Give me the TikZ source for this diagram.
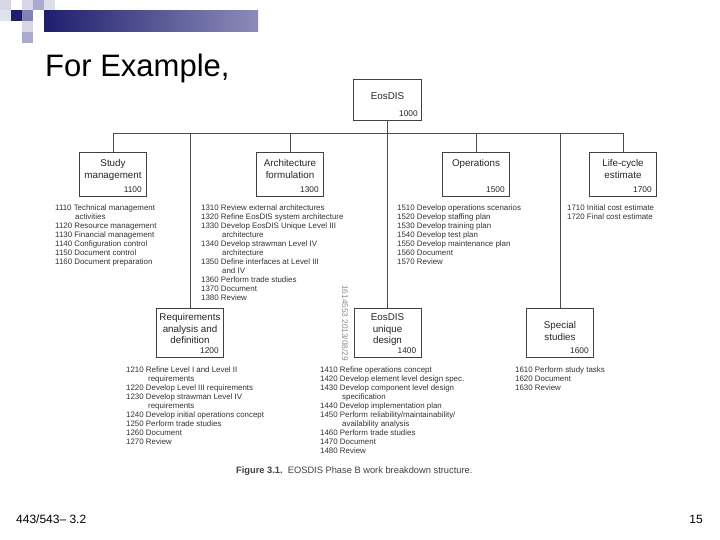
\documentclass[tikz,border=0pt]{standalone}
\usepackage{fontspec}
\setmainfont{Liberation Sans}
\definecolor{navy}{RGB}{30,30,110}
\definecolor{barend}{RGB}{140,140,185}
\definecolor{lightsq}{RGB}{214,214,230}
\definecolor{lavsq}{RGB}{170,170,208}
\definecolor{midsq}{RGB}{130,130,185}
\begin{document}
\begin{tikzpicture}[x=1pt,y=-1pt,
  box/.style={draw=black!75, line width=0.7pt, minimum width=67pt, minimum height=44pt, inner sep=0pt},
  btxt/.style={font=\fontsize{9.8}{11.5}\selectfont, align=center, text=black!85, inner sep=0pt, anchor=north},
  num/.style={font=\fontsize{8.3}{10}\selectfont, text=black!85, inner sep=0pt, anchor=south east},
  lst/.style={font=\fontsize{7.9}{9}\selectfont, align=left, text=black!80, inner sep=0pt, anchor=north west},
  wire/.style={draw=black!70, line width=0.9pt}]
\useasboundingbox (0,0) rectangle (720,540);
\fill[white] (0,0) rectangle (720,540);
% decoration
\fill[lightsq] (0,0) rectangle (11,10);
\fill[lightsq!70] (0,10) rectangle (11,21);
\fill[navy] (11,10) rectangle (22,21);
\fill[lightsq] (22,0) rectangle (33,10);
\fill[lavsq] (33,0) rectangle (44,10);
\fill[midsq] (22,10) rectangle (33,21);
\fill[lightsq] (22,21) rectangle (33,32);
\fill[lavsq] (22,32) rectangle (33,43);
\fill[lightsq!80] (44,0) rectangle (55,10);
\shade[left color=navy, right color=barend] (44,11) rectangle (258,32);
% title
\node[anchor=base west, font=\fontsize{31}{36}\selectfont, inner sep=0pt] (title) at (45,77) {For Example,};
% boxes
\node[box, minimum width=68pt, minimum height=41pt] (top) at (387.5,99.5) {};
\node[btxt] (topt) at (387.5,92) {EosDIS};
\node[num] (topn) at ([xshift=-4pt,yshift=3.5pt]top.south east) {1000};

\node[box] (sm) at (113,174) {};
\node[btxt] (smt) at (113,159.5) {Study\\management};
\node[num] (smn) at ([xshift=-5pt,yshift=3.5pt]sm.south east) {1100};

\node[box] (ar) at (290,174) {};
\node[btxt] (art) at (290,159.5) {Architecture\\formulation};
\node[num] (arn) at ([xshift=-5pt,yshift=3.5pt]ar.south east) {1300};

\node[box] (op) at (476,174) {};
\node[btxt] (opt) at (476,159.5) {Operations};
\node[num] (opn) at ([xshift=-5pt,yshift=3.5pt]op.south east) {1500};

\node[box] (lc) at (623,174) {};
\node[btxt] (lct) at (623,159.5) {Life-cycle\\estimate};
\node[num] (lcn) at ([xshift=-5pt,yshift=3.5pt]lc.south east) {1700};

\node[box, minimum height=49pt] (req) at (190,332.5) {};
\node[btxt] (reqt) at (190,313.5) {Requirements\\analysis and\\definition};
\node[num] (reqn) at ([xshift=-5pt,yshift=3.5pt]req.south east) {1200};

\node[box, minimum height=49pt] (ud) at (387.5,332.5) {};
\node[btxt] (udt) at (387.5,313.5) {EosDIS\\unique\\design};
\node[num] (udn) at ([xshift=-5pt,yshift=3.5pt]ud.south east) {1400};

\node[box, minimum height=49pt] (ss) at (560,332.5) {};
\node[btxt] (sst) at (560,321.5) {Special\\studies};
\node[num] (ssn) at ([xshift=-5pt,yshift=3.5pt]ss.south east) {1600};

% connectors
\coordinate (bl) at (113,133);
\coordinate (br) at (623,133);
\draw[wire] (top.south) -- (ud.north);
\draw[wire] (bl) -- (br);
\draw[wire] (bl) -- (sm.north);
\draw[wire] (ar.north |- bl) -- (ar.north);
\draw[wire] (op.north |- bl) -- (op.north);
\draw[wire] (br) -- (lc.north);
\draw[wire] (req.north |- bl) -- (req.north);
\draw[wire] (ss.north |- bl) -- (ss.north);

% lists
\node[lst] (l11) at (55,205) {1110 Technical management\\
\hspace*{20pt}activities\\
1120 Resource management\\
1130 Financial management\\
1140 Configuration control\\
1150 Document control\\
1160 Document preparation};

\node[lst] (l13) at (201,205) {1310 Review external architectures\\
1320 Refine EosDIS system architecture\\
1330 Develop EosDIS Unique Level III\\
\hspace*{21pt}architecture\\
1340 Develop strawman Level IV\\
\hspace*{21pt}architecture\\
1350 Define interfaces at Level III\\
\hspace*{21pt}and IV\\
1360 Perform trade studies\\
1370 Document\\
1380 Review};

\node[lst] (l15) at (397,205) {1510 Develop operations scenarios\\
1520 Develop staffing plan\\
1530 Develop training plan\\
1540 Develop test plan\\
1550 Develop maintenance plan\\
1560 Document\\
1570 Review};

\node[lst] (l17) at (567,205) {1710 Initial cost estimate\\
1720 Final cost estimate};

\node[lst] (l12) at (126,367) {1210 Refine Level I and Level II\\
\hspace*{22pt}requirements\\
1220 Develop Level III requirements\\
1230 Develop strawman Level IV\\
\hspace*{22pt}requirements\\
1240 Develop initial operations concept\\
1250 Perform trade studies\\
1260 Document\\
1270 Review};

\node[lst] (l14) at (320,367) {1410 Refine operations concept\\
1420 Develop element level design spec.\\
1430 Develop component level design\\
\hspace*{22pt}specification\\
1440 Develop implementation plan\\
1450 Perform reliability/maintainability/\\
\hspace*{22pt}availability analysis\\
1460 Perform trade studies\\
1470 Document\\
1480 Review};

\node[lst] (l16) at (515,367) {1610 Perform study tasks\\
1620 Document\\
1630 Review};

% watermark
\node[rotate=-90, font=\fontsize{8.2}{9}\selectfont, text=black!45, inner sep=0pt] (wm) at (345,323) {1614553 2013/08/29};

% caption
\node[anchor=base west, font=\fontsize{9.3}{11}\selectfont, text=black!75, inner sep=0pt] (cap) at (236,473) {\textbf{Figure 3.1.}\ \ EOSDIS Phase B work breakdown structure.};

% footer
\node[anchor=base west, font=\fontsize{12}{14}\selectfont, inner sep=0pt] (ft) at (16,523) {443/543– 3.2};
\node[anchor=base east, font=\fontsize{12}{14}\selectfont, inner sep=0pt] (pg) at (703,523) {15};
\end{tikzpicture}
\end{document}
